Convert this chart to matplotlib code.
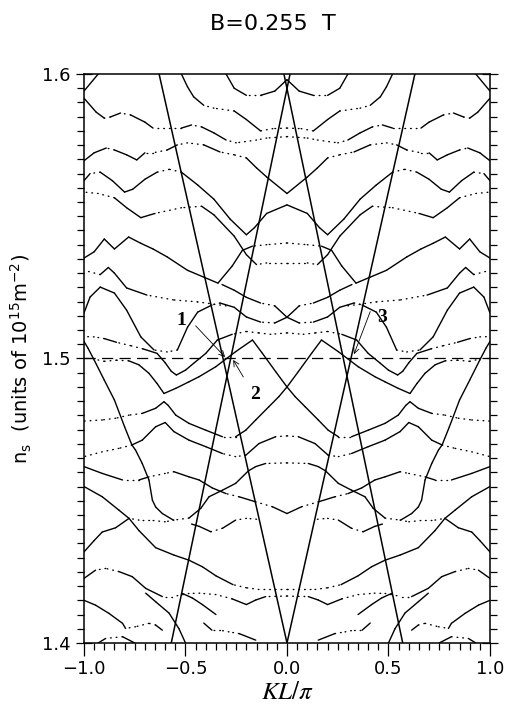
import numpy as np
import matplotlib
matplotlib.use('Agg')
import matplotlib.pyplot as plt

# band curves for KL/pi >= 0 as (KL/pi, n_s) pairs; the picture is mirror symmetric about KL=0
band_a = [(0, 1.598), (0.06, 1.594), (0.13, 1.5925), (0.2, 1.5925), (0.26, 1.595), (0.3, 1.6)]
band_b = [(0.93, 1.6), (1.0, 1.594)]
band_c = [(0, 1.581), (0.07, 1.5808), (0.13, 1.580), (0.2, 1.584), (0.26, 1.587), (0.36, 1.588),
          (0.41, 1.589), (0.46, 1.592), (0.49, 1.5955), (0.52, 1.6)]
band_d = [(0, 1.578), (0.1, 1.5775), (0.15, 1.5768), (0.25, 1.5758), (0.3, 1.5768), (0.36, 1.5793),
          (0.42, 1.5814), (0.47, 1.5821), (0.52, 1.581), (0.66, 1.581), (0.7, 1.5831), (0.77, 1.5856),
          (0.82, 1.5863), (0.87, 1.5849), (0.9, 1.5845), (0.94, 1.5866), (1.0, 1.5915)]
band_e = [(0, 1.558), (0.1, 1.5638), (0.15, 1.567), (0.2, 1.5705), (0.26, 1.5716), (0.33, 1.5726),
          (0.41, 1.5751), (0.49, 1.5758), (0.54, 1.5751), (0.59, 1.5733), (0.66, 1.5723), (0.7, 1.5723),
          (0.74, 1.5698), (0.79, 1.5716), (0.85, 1.5733), (0.89, 1.574), (0.95, 1.5723), (1.0, 1.5695)]
band_f = [(0, 1.554), (0.1, 1.551), (0.16, 1.546), (0.2, 1.5435), (0.28, 1.549), (0.36, 1.556),
          (0.44, 1.561), (0.52, 1.5655), (0.58, 1.5665), (0.64, 1.5655), (0.7, 1.563), (0.76, 1.5595),
          (0.8, 1.5585), (0.86, 1.5625), (0.92, 1.5655), (0.97, 1.565), (1.0, 1.5625)]
band_g = [(0, 1.5406), (0.1, 1.540), (0.17, 1.5395), (0.22, 1.538), (0.27, 1.5325), (0.34, 1.5265),
          (0.41, 1.5286), (0.49, 1.531), (0.59, 1.5357), (0.66, 1.5385), (0.72, 1.5405), (0.78, 1.5427),
          (0.85, 1.5385), (0.9, 1.542), (0.95, 1.5375), (1.0, 1.5353)]
band_h = [(0, 1.5336), (0.1, 1.5336), (0.15, 1.533), (0.2, 1.5365), (0.26, 1.543), (0.36, 1.5505),
          (0.42, 1.5535), (0.52, 1.553), (0.65, 1.551), (0.72, 1.5495), (0.79, 1.553), (0.85, 1.5565),
          (0.93, 1.558), (1.0, 1.5585)]
band_i = [(0.3, 1.5185), (0.44, 1.5199), (0.56, 1.5206), (0.69, 1.5223), (0.79, 1.5248), (0.85, 1.530),
          (0.88, 1.532), (0.92, 1.5295), (1.0, 1.531)]
band_j = [(0, 1.5145), (0.06, 1.5125), (0.13, 1.5128), (0.2, 1.5146), (0.26, 1.518), (0.33, 1.5195),
          (0.37, 1.5188), (0.44, 1.5163), (0.49, 1.511), (0.54, 1.503), (0.59, 1.5023), (0.655, 1.503),
          (0.72, 1.5076), (0.79, 1.517), (0.85, 1.523), (0.92, 1.5251), (0.97, 1.5216), (1.0, 1.516)]
band_k = [(0, 1.5145), (0.06, 1.5185), (0.13, 1.5195), (0.2, 1.5215), (0.26, 1.524), (0.32, 1.526)]
band_l = [(0, 1.509), (0.08, 1.5085), (0.14, 1.509), (0.2, 1.5095), (0.27, 1.5085), (0.343, 1.5065),
          (0.4, 1.5018), (0.46, 1.4983), (0.5, 1.4959), (0.545, 1.4942), (0.57, 1.4955), (0.6, 1.4985),
          (0.64, 1.5018), (0.71, 1.5034), (0.77, 1.5045), (0.84, 1.5057), (0.9, 1.507), (0.95, 1.5076),
          (1.0, 1.5077)]
band_m = [(0, 1.49), (0.056, 1.4954), (0.121, 1.5018), (0.17, 1.5065), (0.253, 1.5024), (0.351, 1.4971),
          (0.433, 1.4936), (0.483, 1.4918), (0.548, 1.4895), (0.606, 1.4877), (0.64, 1.4912),
          (0.68, 1.4948), (0.73, 1.4978), (0.78, 1.4992), (0.84, 1.4994), (0.9, 1.499), (0.95, 1.4998)]
band_n = [(0, 1.49), (0.04, 1.4866), (0.09, 1.483), (0.154, 1.4784), (0.203, 1.4748), (0.253, 1.4725),
          (0.318, 1.4725), (0.4, 1.4748), (0.483, 1.4772), (0.548, 1.4801), (0.585, 1.4835),
          (0.606, 1.4848), (0.647, 1.4825), (0.713, 1.4807), (0.778, 1.4801), (0.844, 1.479),
          (0.91, 1.4784), (1.0, 1.478)]
band_o = [(0, 1.4728), (0.056, 1.4725), (0.138, 1.4701), (0.203, 1.466), (0.253, 1.4655), (0.318, 1.4666),
          (0.4, 1.469), (0.483, 1.4713), (0.557, 1.4743), (0.6, 1.4775), (0.647, 1.476), (0.713, 1.4713),
          (0.764, 1.4696), (0.8, 1.476), (0.85, 1.4854), (0.9, 1.4924), (0.95, 1.4995), (0.98, 1.5036),
          (1.0, 1.506)]
band_p = [(0, 1.4633), (0.105, 1.4631), (0.154, 1.462), (0.19, 1.4605), (0.253, 1.4561), (0.318, 1.4537),
          (0.384, 1.4514), (0.425, 1.4473), (0.483, 1.4439), (0.557, 1.4432), (0.6, 1.4426),
          (0.68, 1.4432), (0.729, 1.4432), (0.778, 1.4438), (0.844, 1.4405), (0.91, 1.439), (0.95, 1.436),
          (1.0, 1.432)]
band_q = [(0, 1.4455), (0.072, 1.4479), (0.154, 1.4496), (0.236, 1.4514), (0.3, 1.4525), (0.368, 1.4545),
          (0.433, 1.4573), (0.483, 1.4584), (0.557, 1.4602), (0.6, 1.4596), (0.68, 1.4584),
          (0.729, 1.4573), (0.81, 1.4573), (0.91, 1.4596), (1.0, 1.462)]
band_r = [(0.15, 1.4435), (0.2, 1.4438), (0.253, 1.4432), (0.318, 1.4403), (0.375, 1.4391),
          (0.433, 1.441), (0.47, 1.4418)]
band_s = [(0.56, 1.4432), (0.614, 1.4455), (0.647, 1.4478), (0.663, 1.4502), (0.68, 1.4573),
          (0.713, 1.4631), (0.746, 1.4678), (0.764, 1.4696), (0.828, 1.4684), (0.91, 1.4672),
          (1.0, 1.4655)]
band_t = [(0, 1.4188), (0.138, 1.4188), (0.2, 1.4194), (0.266, 1.4205), (0.35, 1.4236), (0.417, 1.4268),
          (0.483, 1.4291), (0.557, 1.4309), (0.647, 1.4335), (0.729, 1.4395), (0.778, 1.4438),
          (0.828, 1.4467), (0.91, 1.4514), (1.0, 1.455)]
band_u = [(0, 1.4165), (0.105, 1.4163), (0.154, 1.4151), (0.2, 1.4135), (0.27, 1.4155), (0.35, 1.417),
          (0.43, 1.4175), (0.483, 1.4174), (0.565, 1.4163), (0.614, 1.4163), (0.696, 1.4192),
          (0.762, 1.4233), (0.828, 1.4251), (0.893, 1.4262), (0.943, 1.4256), (1.0, 1.4227)]
band_v = [(0.154, 1.401), (0.236, 1.4033), (0.286, 1.4039), (0.33, 1.4045), (0.37, 1.4045), (0.41, 1.407)]
band_w = [(0.5, 1.4), (0.532, 1.405), (0.581, 1.4105), (0.647, 1.4145), (0.696, 1.4175)]
band_x = [(0.75, 1.4), (0.81, 1.4022), (0.893, 1.4016), (0.93, 1.4)]
band_y = [(0.614, 1.4045), (0.647, 1.4063), (0.68, 1.4069), (0.746, 1.4057), (0.795, 1.4051),
          (0.81, 1.4069), (0.877, 1.4104), (0.943, 1.4133), (1.0, 1.415)]
band_z = [(0.35, 1.41), (0.417, 1.4135), (0.466, 1.4158), (0.515, 1.4174)]

bands = [band_a, band_b, band_c, band_d, band_e, band_f, band_g, band_h, band_i, band_j, band_k,
         band_l, band_m, band_n, band_o, band_p, band_q, band_r, band_s, band_t, band_u, band_v,
         band_w, band_x, band_y, band_z]

# the four straight lines, end points (KL/pi, n_s)
lines = [[(-0.63, 1.6), (0.0, 1.4)],
         [(0.63, 1.6), (0.0, 1.4)],
         [(0.015, 1.6), (-0.57, 1.4)],
         [(-0.015, 1.6), (0.57, 1.4)]]

fermi_level = 1.5

# labelled crossings: label, text position, arrow start, arrow tip
marks = [('1', (-0.52, 1.5135), (-0.45, 1.5115), (-0.305, 1.5005)),
         ('2', (-0.155, 1.4875), (-0.215, 1.4935), (-0.265, 1.4995)),
         ('3', (0.47, 1.5145), (0.41, 1.5165), (0.33, 1.5015))]

fig = plt.figure(figsize=(5.05, 7.18), dpi=100)
ax = fig.add_axes([0.1663, 0.1045, 0.804, 0.7924])
ax.set_xlim(-1, 1)
ax.set_ylim(1.4, 1.6)

# the original was sampled on a fixed n_s grid, so flat stretches come out dotted
px_per_x = 406 / 2.0
px_per_y = 569 / 0.2


def draw_band(xs, ys):
    for k in range(len(xs) - 1):
        dx = abs(xs[k + 1] - xs[k]) * px_per_x
        dy = abs(ys[k + 1] - ys[k]) * px_per_y
        seg_x = [xs[k], xs[k + 1]]
        seg_y = [ys[k], ys[k + 1]]
        if dy < 0.3 * dx:
            ax.plot(seg_x, seg_y, color='black', lw=1.0, dashes=(0.5, 3.6),
                    dash_capstyle='round')
        else:
            ax.plot(seg_x, seg_y, color='black', lw=1.0, solid_capstyle='round')


for band in bands:
    xs = np.array([p[0] for p in band])
    ys = np.array([p[1] for p in band])
    draw_band(xs, ys)
    draw_band(-xs, ys)

for ln in lines:
    ax.plot([ln[0][0], ln[1][0]], [ln[0][1], ln[1][1]], color='black', lw=1.1)

ax.axhline(fermi_level, color='black', lw=0.9, dashes=(9, 5))

for txt, tpos, start, tip in marks:
    ax.text(tpos[0], tpos[1], txt, fontsize=14, fontweight='bold', family='Liberation Serif',
            ha='center', va='center')
    ax.annotate('', xy=tip, xytext=start,
                arrowprops=dict(arrowstyle='->', lw=0.6, color='black', shrinkA=0, shrinkB=0))

ax.set_xticks([-1.0, -0.5, 0.0, 0.5, 1.0])
ax.set_xticklabels(['\u22121.0', '\u22120.5', '0.0', '0.5', '1.0'])
ax.set_xticks(np.arange(-1, 1.001, 0.05), minor=True)
ax.set_yticks([1.4, 1.5, 1.6])
ax.set_yticklabels(['1.4', '1.5', '1.6'])
ax.set_yticks(np.arange(1.4, 1.6001, 0.005), minor=True)
ax.tick_params(which='both', direction='out', top=False, right=True, labelsize=13, width=0.9)
ax.tick_params(which='major', length=9)
ax.tick_params(which='minor', length=5)
ax.tick_params(axis='y', which='major', direction='inout', length=12)
for s in ax.spines.values():
    s.set_linewidth(1.1)

ax.set_xlabel(r'$KL/\pi$', fontsize=18, math_fontfamily='stix', labelpad=1)
ax.set_ylabel(r'n$_\mathregular{s}$  (units of 10$^\mathregular{15}$m$^\mathregular{-2}$)', fontsize=14,
              labelpad=6)
fig.text(0.541, 0.967, 'B=0.255  T', fontsize=16, ha='center', va='center')

fig.savefig('out.png', dpi=100)
